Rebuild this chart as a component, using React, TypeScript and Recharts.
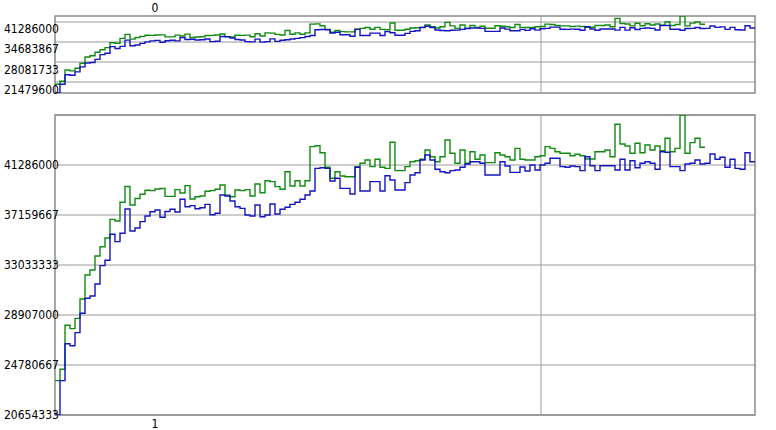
import React from "react";
import {
  LineChart,
  Line,
  XAxis,
  YAxis,
  CartesianGrid,
  ReferenceLine,
  ReferenceArea,
} from "recharts";

// sample values, one per step
const greenValues = [
  23490000, 24430000, 28060000, 27780000, 28630000, 30230000, 32210000, 32620000, 33780000, 34540000,
  35260000, 36800000, 36660000, 38210000, 39510000, 37990000, 38520000, 38870000, 39200000, 39170000,
  39310000, 39350000, 38700000, 38700000, 39250000, 38980000, 39580000, 38480000, 38670000, 38730000,
  39120000, 39170000, 39280000, 39640000, 38790000, 38670000, 39220000, 39170000, 39250000, 38730000,
  39720000, 39000000, 39990000, 39910000, 39500000, 39280000, 40730000, 39550000, 39990000, 39550000,
  39990000, 42800000, 42880000, 42300000, 41100000, 40190000, 40730000, 40380000, 40320000, 40320000,
  41150000, 41430000, 41700000, 41150000, 41760000, 41100000, 41010000, 43160000, 40820000, 40820000,
  41150000, 41560000, 41640000, 41760000, 42520000, 41970000, 41560000, 41970000, 43350000, 42250000,
  41430000, 42520000, 41430000, 42380000, 41760000, 42110000, 41480000, 41480000, 42300000, 42110000,
  41970000, 41700000, 42660000, 41760000, 41700000, 41700000, 41970000, 42050000, 42800000, 42660000,
  42380000, 42250000, 42250000, 42050000, 42170000, 42050000, 41780000, 41780000, 42380000, 42380000,
  42520000, 41970000, 44650000, 43020000, 42850000, 42250000, 43080000, 42300000, 42940000, 42520000,
  42850000, 42470000, 43490000, 42380000, 42660000, 45412333, 42250000, 43130000, 43490000, 42750000,
];

const blueValues = [
  20654333, 23490000, 26540000, 26370000, 27450000, 29050000, 30290000, 30480000, 31470000, 32980000,
  33420000, 35570000, 34960000, 35650000, 37660000, 35840000, 36090000, 36610000, 37080000, 37430000,
  37570000, 36970000, 37450000, 37630000, 37410000, 38460000, 37840000, 37930000, 37680000, 37760000,
  38040000, 37180000, 37300000, 38810000, 38730000, 38320000, 37840000, 37710000, 37160000, 37080000,
  37990000, 37020000, 37160000, 38070000, 37240000, 37630000, 37800000, 38040000, 38210000, 38460000,
  38810000, 39140000, 41010000, 41060000, 41010000, 39970000, 40190000, 39360000, 39360000, 38890000,
  41100000, 39140000, 39140000, 39910000, 39910000, 39140000, 40400000, 40050000, 39220000, 39220000,
  39830000, 40460000, 40650000, 41700000, 42110000, 41700000, 40930000, 40730000, 40650000, 40820000,
  40870000, 41100000, 41370000, 41560000, 41560000, 41430000, 40460000, 40460000, 40460000, 41560000,
  41200000, 40680000, 40680000, 41120000, 40790000, 41290000, 40870000, 41290000, 41430000, 41840000,
  41840000, 41150000, 41100000, 41200000, 41150000, 40820000, 41970000, 41230000, 40820000, 41230000,
  41230000, 41230000, 40870000, 41760000, 40870000, 41640000, 41060000, 41430000, 41560000, 41430000,
  40930000, 42380000, 42340000, 41150000, 41150000, 40820000, 41370000, 41430000, 41700000, 41370000,
  41430000, 42190000, 41760000, 41920000, 41100000, 41760000, 41010000, 40930000, 42300000, 41560000,
];

const topTicks = [21479600, 28081733, 34683867, 41286000];
const topGridValues = [24190000, 30620000, 37050000, 43480000];
const bottomTicks = [20654333, 24780667, 28907000, 33033333, 37159667, 41286000];
const panelLabels = ["0", "1"];
const labelAt = 20;
const splitAt = 97.2;

const yMin = 20654333;
const yMax = 45412333;
const steps = blueValues.length;

// one row per step edge; the last row closes the final step
const rows = Array.from({ length: steps + 1 }, (_, i) => ({
  t: i,
  green:
    i < greenValues.length
      ? greenValues[i]
      : i === greenValues.length
      ? greenValues[greenValues.length - 1]
      : undefined,
  blue: i < steps ? blueValues[i] : blueValues[steps - 1],
}));

const FONT = "'DejaVu Sans Condensed', 'DejaVu Sans', sans-serif";
const GRID = "#9a9a9a";

const LeftTick = (props: any) => (
  <text
    x={4}
    y={props.y}
    dy={4}
    fontSize={12}
    fontFamily={FONT}
    fill="#000"
    textAnchor="start"
  >
    {props.payload.value}
  </text>
);

function Panel({
  height,
  top,
  ticks,
  gridValues,
  label,
  axisTop,
}: {
  height: number;
  top: number;
  ticks: number[];
  gridValues?: number[];
  label: string;
  axisTop: boolean;
}) {
  return (
    <div style={{ position: "absolute", left: 0, top, width: 776, height }}>
      <LineChart
        width={776}
        height={height}
        data={rows}
        margin={axisTop ? { top: 0, right: 21, bottom: 7, left: 0 } : { top: 15, right: 21, bottom: 0, left: 0 }}
      >
        <CartesianGrid
          vertical={false}
          stroke={GRID}
          horizontalValues={gridValues}
        />
        <XAxis
          dataKey="t"
          type="number"
          domain={[0, steps]}
          ticks={[labelAt]}
          tickFormatter={() => label}
          orientation={axisTop ? "top" : "bottom"}
          height={axisTop ? 16 : 15}
          axisLine={false}
          tickLine={false}
          tickSize={0}
          tickMargin={4}
          tick={{ fontSize: 12, fontFamily: FONT, fill: "#000" }}
        />
        <YAxis
          type="number"
          domain={[yMin, yMax]}
          ticks={ticks}
          interval={0}
          width={55}
          axisLine={false}
          tickLine={false}
          tick={<LeftTick />}
          allowDataOverflow
        />
        <ReferenceLine x={splitAt} stroke={GRID} />
        <ReferenceArea
          x1={0}
          x2={steps}
          y1={yMin}
          y2={yMax}
          fill="none"
          stroke="#8a8a8a"
          strokeWidth={1.5}
        />
        <Line
          dataKey="green"
          type="stepAfter"
          stroke="#118a11"
          strokeWidth={1.4}
          dot={false}
          isAnimationActive={false}
        />
        <Line
          dataKey="blue"
          type="stepAfter"
          stroke="#1414c0"
          strokeWidth={1.4}
          dot={false}
          isAnimationActive={false}
        />
      </LineChart>
    </div>
  );
}

export default function App() {
  return (
    <div
      style={{
        position: "absolute",
        left: 0,
        top: 0,
        width: 776,
        height: 430,
        background: "#fff",
      }}
    >
      <Panel height={100} top={0} ticks={topTicks} gridValues={topGridValues} label={panelLabels[0]} axisTop />
      <Panel height={330} top={100} ticks={bottomTicks} label={panelLabels[1]} axisTop={false} />
    </div>
  );
}
